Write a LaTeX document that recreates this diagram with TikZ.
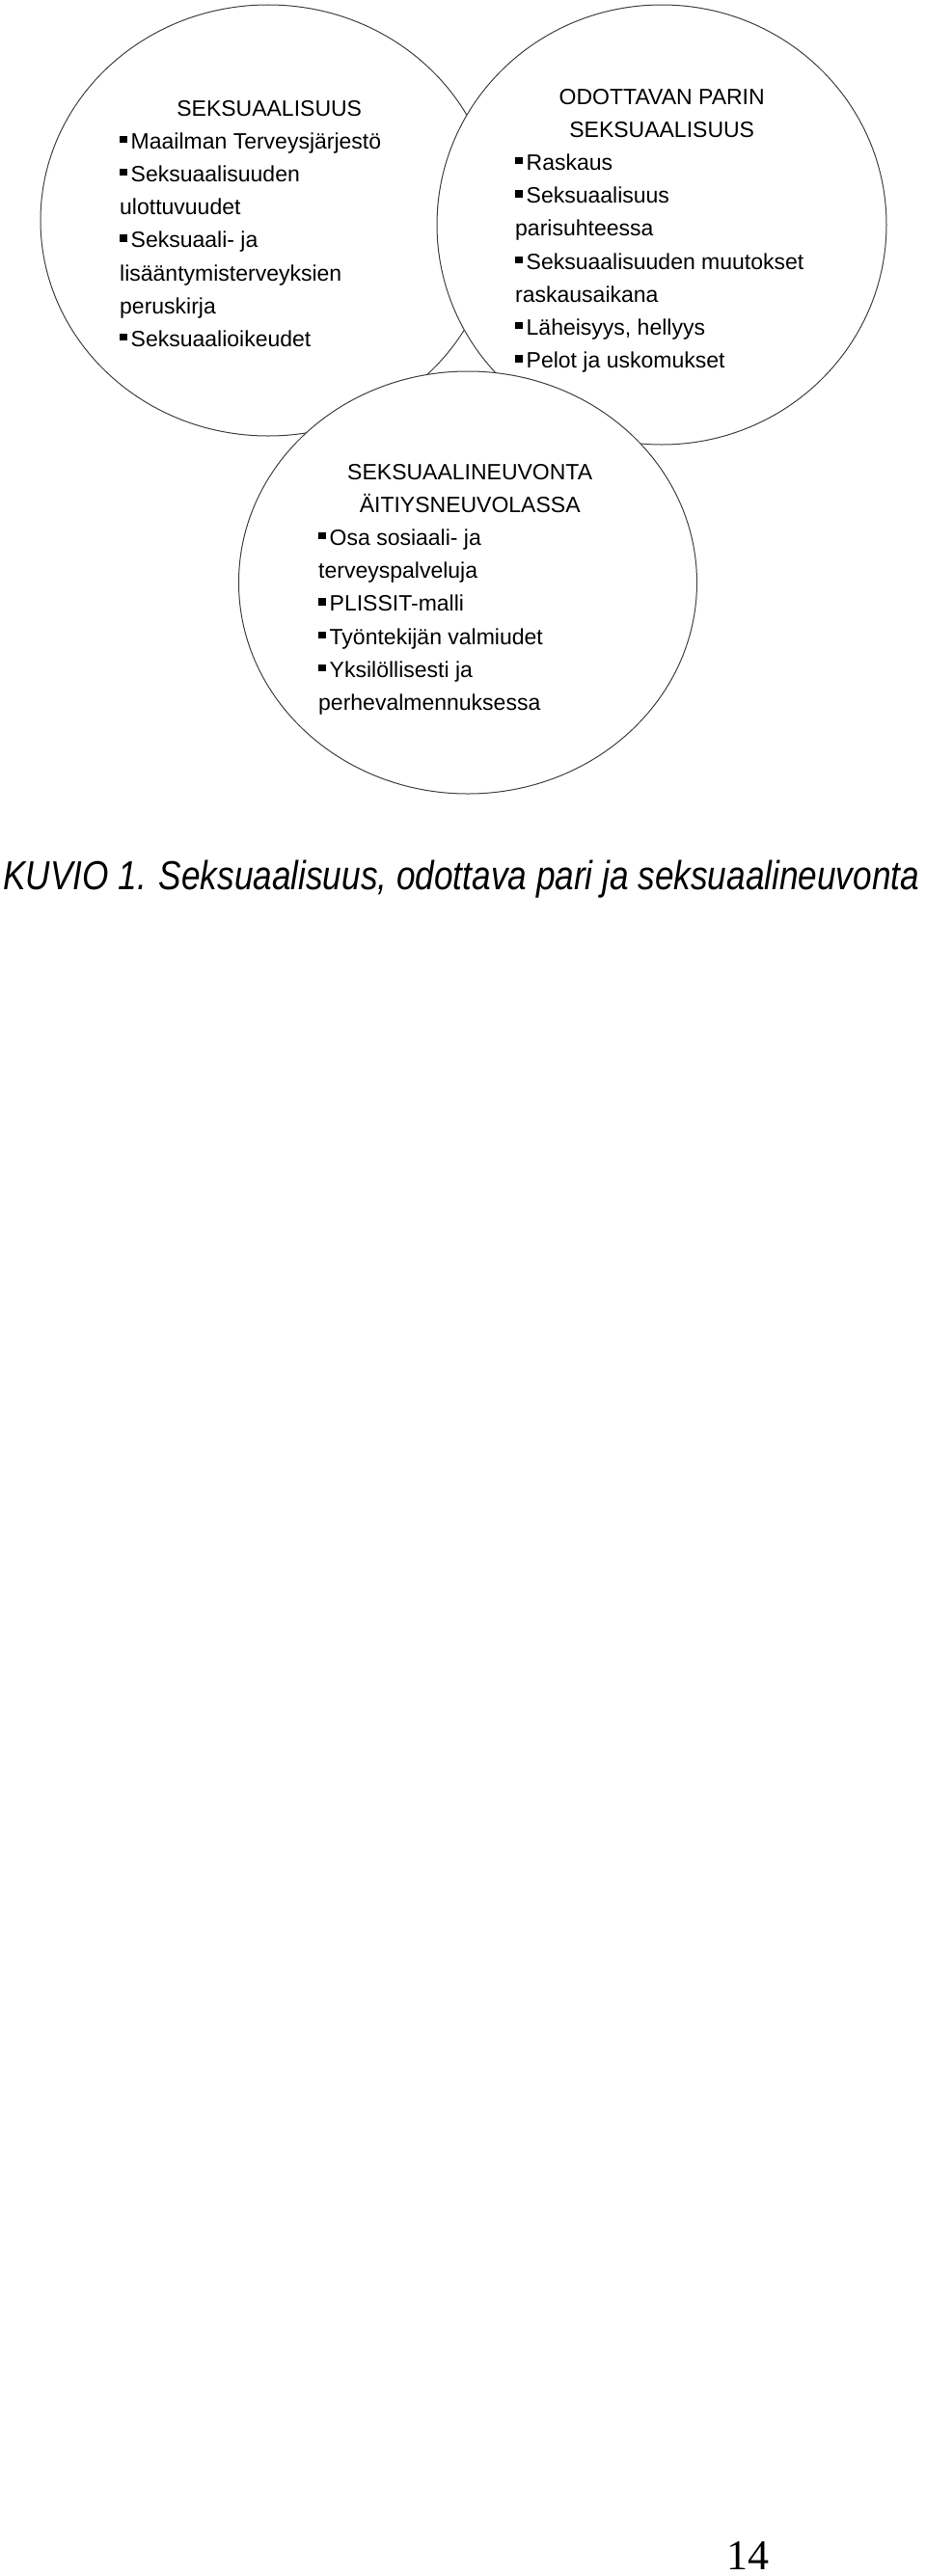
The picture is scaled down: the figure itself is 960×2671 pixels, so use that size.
\documentclass[tikz,border=0pt]{standalone}
\usepackage{fontspec}
\usepackage{graphicx}
\setmainfont{Liberation Sans}
\newfontfamily\pagefont{Liberation Serif}
\usetikzlibrary{shapes.geometric}
\newcommand{\blt}{\rule[6pt]{7.5pt}{7.5pt}\hspace{4pt}}
\begin{document}
\begin{tikzpicture}[x=1pt,y=-1pt,
  bubble/.style={draw=black!75,line width=1pt,fill=white,ellipse,inner sep=0pt},
  listtext/.style={anchor=base west,inner sep=0pt,font=\fontsize{23}{34.2}\selectfont}]
\useasboundingbox (0,0) rectangle (960,2671);
\node[bubble,minimum width=472pt,minimum height=447pt] (sexu) at (278,228.5) {};
\node[bubble,minimum width=466pt,minimum height=456pt] (pari) at (686,233) {};
\node[bubble,minimum width=475pt,minimum height=438pt] (neuvo) at (485,604) {};
\node[listtext] (sexutext) at (124,120) {\parbox[t]{310pt}{\centering SEKSUAALISUUS\par\raggedright
\blt Maailman Terveysjärjestö\\
\blt Seksuaalisuuden\\
ulottuvuudet\\
\blt Seksuaali- ja\\
lisääntymisterveyksien\\
peruskirja\\
\blt Seksuaalioikeudet}};
\node[listtext] (paritext) at (534,108) {\parbox[t]{304pt}{\centering ODOTTAVAN PARIN\par SEKSUAALISUUS\par\raggedright
\blt Raskaus\\
\blt Seksuaalisuus\\
parisuhteessa\\
\mbox{\blt Seksuaalisuuden muutokset}\\
raskausaikana\\
\blt Läheisyys, hellyys\\
\blt Pelot ja uskomukset}};
\node[listtext] (neuvotext) at (330,497) {\parbox[t]{314pt}{\centering SEKSUAALINEUVONTA\par ÄITIYSNEUVOLASSA\par\raggedright
\blt Osa sosiaali- ja\\
terveyspalveluja\\
\blt PLISSIT-malli\\
\blt Työntekijän valmiudet\\
\blt Yksilöllisesti ja\\
perhevalmennuksessa}};
% kuvion otsikko ja sivunumero
\node[anchor=base west,inner sep=0pt] (kuvio) at (3,922) {\resizebox{950pt}{\height}{\fontsize{42}{50}\selectfont\itshape KUVIO 1. Seksuaalisuus, odottava pari ja seksuaalineuvonta}};
\node[anchor=base west,inner sep=0pt] (sivu) at (753,2664) {\fontsize{44}{50}\selectfont\pagefont 14};
\end{tikzpicture}
\end{document}
